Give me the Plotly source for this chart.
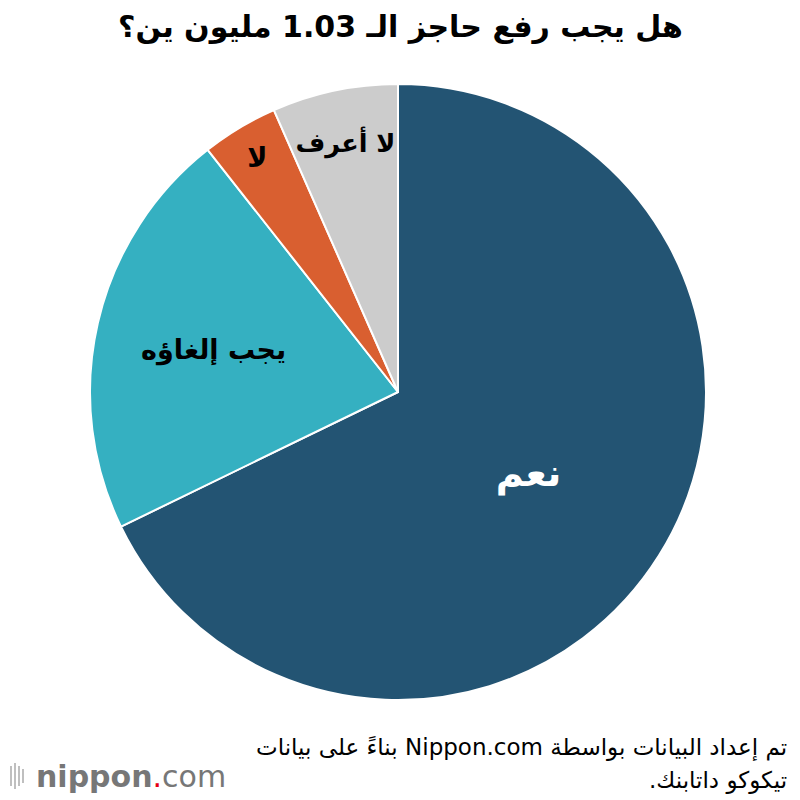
import plotly.graph_objects as go

labels = ["نعم", "يجب إلغاؤه", "لا", "لا أعرف"]
values = [67.8, 21.6, 4.0, 6.6]
colors = ["#235473", "#35b0c1", "#d95f30", "#cccccc"]
text_colors = ["white", "black", "black", "black"]
text_sizes = [38, 27, 27, 27]

title_text = "هل يجب رفع حاجز الـ 1.03 مليون ين؟"
source_lines = ["تم إعداد البيانات بواسطة Nippon.com بناءً على بيانات", "تيكوكو داتابنك."]

# The page body has an 8px margin: convert page pixels to paper coordinates
OFF = 8
W = H = 800
def fx(px):
    return (px - OFF) / W
def fy(py):
    return 1 - (py - OFF) / H

RLE, PDF = "\u202b", "\u202c"

fig = go.Figure(go.Pie(
    labels=labels,
    values=values,
    sort=False,
    direction="clockwise",
    rotation=0,
    marker=dict(colors=colors, line=dict(color="white", width=2)),
    texttemplate="<b>%{label}</b>",
    textposition="inside",
    insidetextorientation="horizontal",
    textfont=dict(family="DejaVu Sans", size=text_sizes, color=text_colors),
    hoverinfo="label+percent",
    showlegend=False,
    domain=dict(x=[fx(90), fx(706)], y=[fy(700), fy(84)]),
))

fig.add_annotation(text="<b>" + RLE + title_text + PDF + "</b>", x=fx(400), y=1.0, xref="paper", yref="paper",
                   showarrow=False, font=dict(family="DejaVu Sans", size=30, color="black"),
                   xanchor="center", yanchor="top", borderpad=0)
for line, ypx in zip(source_lines, [747, 780]):
    fig.add_annotation(text=RLE + line + PDF, x=fx(789), y=fy(ypx),
                       xref="paper", yref="paper", showarrow=False, align="center",
                       font=dict(family="DejaVu Sans", size=23, color="black"),
                       xanchor="right", yanchor="middle")
fig.add_annotation(text="<b>nippon</b><span style='color:#e60012'>.</span>com", x=fx(34), y=fy(776),
                   xref="paper", yref="paper", showarrow=False,
                   font=dict(family="DejaVu Sans", size=30, color="#777777"),
                   xanchor="left", yanchor="middle")
# logo bars
for i, h in enumerate([8, 14, 20, 26, 20, 14]):
    xpx = 3 + i * 4
    fig.add_shape(type="line", xref="paper", yref="paper", x0=fx(xpx), x1=fx(xpx),
                  y0=fy(776 + h / 2), y1=fy(776 - h / 2),
                  line=dict(color="#aaaaaa", width=1.5))

fig.update_layout(
    width=W, height=H,
    margin=dict(l=0, r=0, t=0, b=0),
    paper_bgcolor="white", plot_bgcolor="white",
    uniformtext=dict(minsize=10),
)
fig.write_html("out.html")
